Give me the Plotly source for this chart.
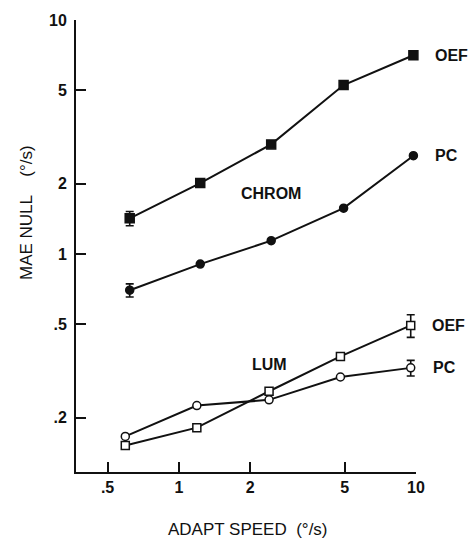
import math
import plotly.graph_objects as go

# ---- data ----
chrom_x = [0.62, 1.23, 2.45, 4.95, 9.75]
chrom_oef = [1.42, 2.01, 2.94, 5.27, 7.07]
chrom_pc = [0.70, 0.905, 1.14, 1.57, 2.63]
chrom_oef_err = [0.10, 0, 0, 0, 0]
chrom_pc_err = [0.045, 0, 0, 0, 0]

lum_x = [0.594, 1.19, 2.40, 4.8, 9.5]
lum_oef = [0.152, 0.181, 0.259, 0.365, 0.495]
lum_pc = [0.166, 0.225, 0.238, 0.298, 0.326]
lum_oef_err = [0, 0, 0, 0, 0.055]
lum_pc_err = [0, 0, 0, 0, 0.025]

x_tickvals = [0.5, 1, 2, 5, 10]
x_ticktext = [".5", "1", "2", "5", "10"]
y_tickvals = [0.2, 0.5, 1, 2, 5, 10]
y_ticktext = [".2", ".5", "1", "2", "5", "10"]

FONT = "Liberation Sans, Arial, sans-serif"
INK = "#111111"

fig = go.Figure()

def add(x, y, err, symbol, size, fill):
    fig.add_trace(go.Scatter(
        x=x, y=y, mode="lines+markers",
        line=dict(color=INK, width=2),
        marker=dict(symbol=symbol, size=size, color=fill,
                    line=dict(color=INK, width=1.5)),
        error_y=dict(type="data", array=err, symmetric=True, color=INK, thickness=1.6, width=4),
        cliponaxis=False, showlegend=False,
    ))

add(chrom_x, chrom_oef, chrom_oef_err, "square", 9, INK)
add(chrom_x, chrom_pc, chrom_pc_err, "circle", 8, INK)
add(lum_x, lum_oef, lum_oef_err, "square", 8, "white")
add(lum_x, lum_pc, lum_pc_err, "circle", 8, "white")

def lab(text, xv, yv, xref="paper", anchor="left", size=16):
    fig.add_annotation(text=text, x=xv, y=yv, xref=xref, yref="y", showarrow=False,
                       xanchor=anchor, yanchor="middle",
                       font=dict(family=FONT, size=size, color=INK, weight="bold"))

lab("OEF", 1.05, math.log10(chrom_oef[-1]))
lab("PC", 1.05, math.log10(chrom_pc[-1]))
lab("OEF", 1.04, math.log10(lum_oef[-1]))
lab("PC", 1.045, math.log10(lum_pc[-1]))
lab("CHROM", math.log10(2.44), math.log10(1.81), xref="x", anchor="center")
lab("LUM", math.log10(2.42), math.log10(0.337), xref="x", anchor="center")

fig.add_annotation(text="MAE NULL    (°/s)", x=-0.147, y=0.573, xref="paper", yref="paper",
                   textangle=-90, showarrow=False, xanchor="center", yanchor="middle",
                   font=dict(family=FONT, size=17, color=INK))
fig.add_annotation(text="ADAPT SPEED  (°/s)", x=0.507, y=-0.128, xref="paper", yref="paper",
                   showarrow=False, xanchor="center", yanchor="middle",
                   font=dict(family=FONT, size=17, color=INK))

axis_common = dict(type="log", showgrid=False, zeroline=False, showline=True,
                   linecolor=INK, linewidth=2, ticks="inside", ticklen=10,
                   tickwidth=1.5, tickcolor=INK,
                   tickfont=dict(family=FONT, size=16, color=INK, weight="bold"))

fig.update_layout(
    width=471, height=541,
    margin=dict(l=76, r=55, t=15, b=69),
    paper_bgcolor="white", plot_bgcolor="white",
    xaxis=dict(range=[math.log10(0.368), 1], tickvals=x_tickvals, ticktext=x_ticktext,
               ticklabelstandoff=0, **axis_common),
    yaxis=dict(range=[math.log10(0.117), 1], tickvals=y_tickvals, ticktext=y_ticktext,
               ticklabelstandoff=4, **axis_common),
)

fig.write_html("out.html")
